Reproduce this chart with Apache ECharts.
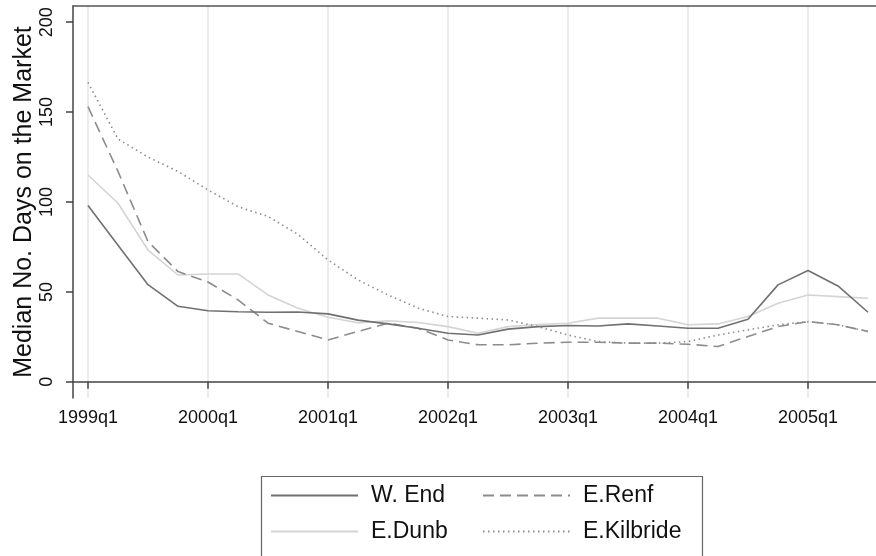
<!DOCTYPE html>
<html>
<head>
<meta charset="utf-8">
<script src="https://cdn.jsdelivr.net/npm/echarts@6/dist/echarts.min.js"></script>
<style>
html,body{margin:0;padding:0;background:#fff;}
#chart{width:876px;height:556px;}
</style>
</head>
<body>
<div id="chart"></div>
<script>
// Quarters 1999q1 .. 2005q3
const quarters = [
  '1999q1','1999q2','1999q3','1999q4',
  '2000q1','2000q2','2000q3','2000q4',
  '2001q1','2001q2','2001q3','2001q4',
  '2002q1','2002q2','2002q3','2002q4',
  '2003q1','2003q2','2003q3','2003q4',
  '2004q1','2004q2','2004q3','2004q4',
  '2005q1','2005q2','2005q3'
];
const wEnd      = [98, 76, 54, 42, 39.5, 39, 38.7, 38.8, 37.8, 34.3, 32.2, 29.8, 27, 26, 29.3, 30.7, 31.3, 31, 32.2, 31, 29.8, 29.8, 34.8, 53.9, 61.9, 53.3, 38.7];
const eRenf     = [153, 117, 78, 61.3, 55.5, 45.6, 32.6, 28, 23.3, 28, 32.6, 29.8, 23.3, 20.6, 20.6, 21.5, 22, 22, 21.5, 21.5, 20.9, 19.6, 25.2, 30.7, 33.5, 31.7, 28];
const eDunb     = [115, 99.3, 73.3, 59.4, 60, 60, 48.3, 40.9, 35.9, 32.8, 34, 33, 30.7, 27, 30.7, 31.9, 32.6, 35.4, 35.4, 35.4, 31.7, 32.2, 36.3, 43.7, 48.3, 47.4, 46.5];
const eKilbride = [166.5, 135, 125, 117, 106.7, 97.4, 92, 82, 67.8, 56.7, 48.3, 41, 36.3, 35.4, 34.4, 30.7, 26, 22.4, 21.5, 21.5, 22.4, 26, 28.9, 31.7, 33.5, 31.7, 28];
const yTicks = [0, 50, 100, 150, 200];
const seriesNames = ['W. End', 'E.Renf', 'E.Dunb', 'E.Kilbride'];

const FONT = "'Liberation Sans', Arial, Helvetica, sans-serif";
const chart = echarts.init(document.getElementById('chart'), null, {renderer: 'canvas'});

function legendAt(name, left, top) {
  return {
    data: [name], left: left, top: top, padding: 0,
    itemWidth: 87, itemHeight: 14,
    itemStyle: {opacity: 0, borderWidth: 0},
    textStyle: {fontFamily: FONT, fontSize: 23, color: '#111', padding: [0, 0, 0, 8]},
    selectedMode: false
  };
}

const option = {
  animation: false,
  backgroundColor: '#fff',
  grid: {left: 73, right: -7, top: 6, bottom: 158, show: false,
         containLabel: false, outerBoundsMode: 'none'},
  xAxis: [{
    type: 'category',
    data: quarters,
    boundaryGap: true,
    axisLine: {show: true, lineStyle: {color: '#444', width: 1.5}},
    axisTick: {show: true, interval: 3, alignWithLabel: true, length: 7, lineStyle: {color: '#444', width: 1.5}},
    axisLabel: {interval: 3, margin: 11, fontFamily: FONT, fontSize: 18, color: '#111'},
    splitLine: {show: true, interval: 3, alignWithLabel: true, lineStyle: {color: '#e6e6e6', width: 1.5}}
  }, {
    type: 'category',
    data: quarters,
    position: 'top',
    boundaryGap: true,
    axisLine: {show: true, lineStyle: {color: '#555', width: 1.5}},
    axisTick: {show: false},
    axisLabel: {show: false},
    splitLine: {show: false}
  }],
  yAxis: {
    type: 'value',
    min: -9, max: 209,
    name: 'Median No. Days on the Market',
    nameLocation: 'middle', nameGap: 36, nameRotate: 90, nameMoveOverlap: false,
    nameTextStyle: {fontFamily: FONT, fontSize: 25, color: '#111'},
    axisLine: {show: true, lineStyle: {color: '#444', width: 1.5}},
    axisTick: {show: true, length: 7, customValues: yTicks, lineStyle: {color: '#444', width: 1.5}},
    axisLabel: {customValues: yTicks, rotate: 90, margin: 17, fontFamily: FONT, fontSize: 18, color: '#111'},
    splitLine: {show: false}
  },
  legend: [
    legendAt(seriesNames[0], 270, 484),
    legendAt(seriesNames[1], 482, 484),
    legendAt(seriesNames[2], 270, 520),
    legendAt(seriesNames[3], 482, 520)
  ],
  graphic: [{
    type: 'rect', left: 259, top: 474, z: 0,
    shape: {width: 441, height: 81},
    style: {fill: 'none', stroke: '#666', lineWidth: 1.2}
  }],
  series: [
    {name: seriesNames[0], type: 'line', data: wEnd, symbol: 'none', z: 4,
     lineStyle: {color: '#707070', width: 1.6}, itemStyle: {color: '#707070'}},
    {name: seriesNames[1], type: 'line', data: eRenf, symbol: 'none', z: 3,
     lineStyle: {color: '#8c8c8c', width: 1.6, type: [11, 6]}, itemStyle: {color: '#8c8c8c'}},
    {name: seriesNames[2], type: 'line', data: eDunb, symbol: 'none', z: 2,
     lineStyle: {color: '#d4d4d4', width: 1.6}, itemStyle: {color: '#d4d4d4'}},
    {name: seriesNames[3], type: 'line', data: eKilbride, symbol: 'none', z: 3,
     lineStyle: {color: '#8c8c8c', width: 1.6, type: [1.5, 3.5]}, itemStyle: {color: '#8c8c8c'}}
  ]
};
chart.setOption(option);
</script>
</body>
</html>
